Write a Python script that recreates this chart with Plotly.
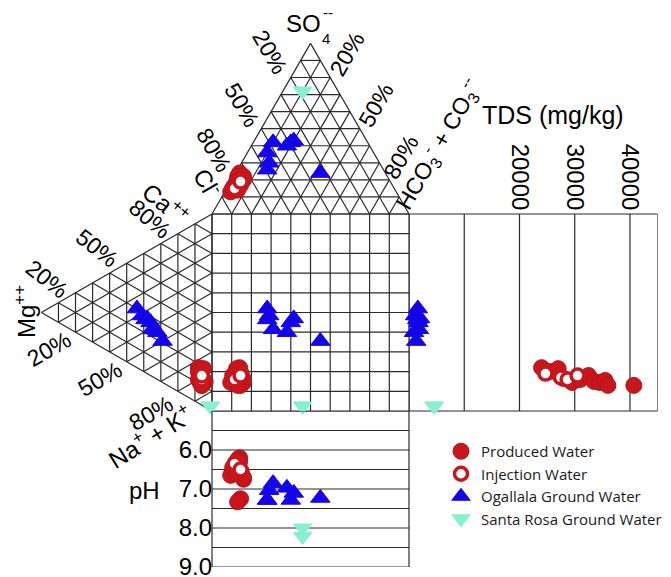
import numpy as np
import plotly.graph_objects as go

# ---------------- sample chemistry ----------------
# cations / anions in % of meq, TDS in mg/kg
prod_ca = [18, 16, 19, 13, 12, 12, 15, 13, 11, 13, 10, 10]
prod_mg = [8, 8, 5, 7, 5, 8, 6, 4, 7, 5, 6, 6]
prod_nak = [74, 76, 76, 80, 83, 80, 79, 83, 82, 82, 84, 84]
prod_cl = [74, 76, 78, 81, 84, 74, 82, 77, 73, 80, 77, 80]
prod_so4 = [24, 22, 19, 16, 13, 20, 15, 18, 22, 15, 17, 14]
prod_hco3 = [2, 2, 3, 3, 3, 6, 3, 5, 5, 5, 6, 6]
prod_tds = [24000, 25500, 27000, 28000, 29500, 31000, 32500, 33500, 34500, 35500, 36000, 40700]
prod_ph = [6.2, 6.25, 6.4, 6.55, 6.65, 6.75, 6.45, 6.3, 6.7, 6.6, 7.25, 7.33]

inj_ca = [16, 14, 13, 15]
inj_mg = [6, 6, 6, 6]
inj_nak = [78, 80, 81, 79]
inj_cl = [75, 80, 81, 76]
inj_so4 = [20, 16, 15, 19]
inj_hco3 = [5, 4, 4, 5]
inj_tds = [24700, 27500, 28700, 30500]
inj_ph = [6.55, 6.33, 6.35, 6.5]

oga_ca = [30, 28, 24, 24, 28, 21, 27, 27]
oga_mg = [44, 41, 35, 32, 38, 29, 39, 36]
oga_nak = [26, 31, 41, 44, 34, 50, 34, 37]
oga_cl = [54, 56, 48, 42, 37, 33, 59, 39]
oga_so4 = [36, 30, 42, 40, 43, 24, 26, 42]
oga_hco3 = [10, 14, 10, 18, 20, 43, 15, 19]
oga_tds = [1600, 1100, 1800, 900, 2000, 1300, 1500, 1700]
oga_ph = [7.28, 7.03, 6.85, 6.97, 7.1, 7.23, 7.28, 7.28]

sr_ca = [2, 2]
sr_mg = [1, 1]
sr_nak = [97, 97]
sr_cl = [18, 18]
sr_so4 = [72, 72]
sr_hco3 = [10, 10]
sr_tds = [4500, 4600]
sr_ph = [8.0, 8.22]

tds_ticks = [20000, 30000, 40000]
tds_ticktext = ["20000", "30000", "40000"]
ph_ticks = [6, 7, 8, 9]
ph_ticktext = ["6.0", "7.0", "8.0", "9.0"]
pct_labels = ["20%", "50%", "80%"]

# ---------------- geometry ----------------
W, H = 671, 577
S = 197.0               # pixels per side of the central square
OX, OY = 212.0, 411.0   # pixel position of the square's lower-left corner
R3 = np.sqrt(3) / 2
TDS_MAX = 45000
TDS_W = 248.6           # pixel width of the TDS panel
PH_H = 156.0            # pixel height of the pH panel (pH 5 -> 9)

FONT = "Liberation Sans, Arial, sans-serif"
GRID = "#2a2a2a"
RED = "#c9161d"
BLUE = "#1405e8"
MINT = "#86f0d0"


def anion_xy(cl, so4, hco3):
    cl, so4, hco3 = (np.asarray(v, float) for v in (cl, so4, hco3))
    tot = cl + so4 + hco3
    s, h = so4 / tot, hco3 / tot
    return h + s / 2, 1 + s * R3


def cation_xy(ca, mg, nak):
    ca, mg, nak = (np.asarray(v, float) for v in (ca, mg, nak))
    tot = ca + mg + nak
    c, m = ca / tot, mg / tot
    return -m * R3, c + m / 2


def seg_trace(segs, xaxis="x", yaxis="y"):
    xs, ys = [], []
    for (x0, y0), (x1, y1) in segs:
        xs += [x0, x1, None]
        ys += [y0, y1, None]
    return go.Scatter(x=xs, y=ys, mode="lines", xaxis=xaxis, yaxis=yaxis,
                      line=dict(color=GRID, width=1.2), hoverinfo="skip",
                      showlegend=False, cliponaxis=False)


fig = go.Figure()

# ---- grids of the two triangles and the central square ----
segs = []
for k in range(10):
    f, g = k / 10, (k + 1) / 10
    # anion triangle (SO4 apex on top of the square)
    segs.append(((f / 2, 1 + f * R3), (1 - f / 2, 1 + f * R3)))
    segs.append(((f, 1), (f + (1 - f) / 2, 1 + (1 - f) * R3)))
    segs.append(((g, 1), (g / 2, 1 + g * R3)))
    # cation triangle (Mg apex to the left of the square)
    segs.append(((-f * R3, f / 2), (-f * R3, 1 - f / 2)))
    segs.append(((0, f), (-(1 - f) * R3, f + (1 - f) / 2)))
    segs.append(((0, g), (-g * R3, g / 2)))
for k in range(11):
    f = k / 10
    segs.append(((f, 0), (f, 1)))
    segs.append(((0, f), (1, f)))
fig.add_trace(seg_trace(segs))

# ---- TDS panel ----
tds_segs = [((v, 0), (v, 1)) for v in [0, 10000, 20000, 30000, 40000, TDS_MAX]]
tds_segs += [((0, 0), (TDS_MAX, 0)), ((0, 1), (TDS_MAX, 1))]
fig.add_trace(seg_trace(tds_segs, xaxis="x2", yaxis="y"))

# ---- pH panel ----
ph_segs = [((0, p), (1, p)) for p in np.arange(5.0, 9.01, 0.5)]
ph_segs += [((0, 5), (0, 9)), ((1, 5), (1, 9))]
fig.add_trace(seg_trace(ph_segs, xaxis="x", yaxis="y2"))

# ---- samples ----
groups = [
    dict(name="Ogallala Ground Water", rank=3,
         data=(oga_ca, oga_mg, oga_nak, oga_cl, oga_so4, oga_hco3, oga_tds, oga_ph),
         marker=dict(symbol="triangle-up", size=17, color=BLUE,
                     line=dict(color=BLUE, width=1))),
    dict(name="Santa Rosa Ground Water", rank=4,
         data=(sr_ca, sr_mg, sr_nak, sr_cl, sr_so4, sr_hco3, sr_tds, sr_ph),
         marker=dict(symbol="triangle-down", size=16, color=MINT,
                     line=dict(color=MINT, width=1))),
    dict(name="Produced Water", rank=1,
         data=(prod_ca, prod_mg, prod_nak, prod_cl, prod_so4, prod_hco3, prod_tds, prod_ph),
         marker=dict(symbol="circle", size=16, color=RED,
                     line=dict(color="#b51219", width=1))),
    dict(name="Injection Water", rank=2,
         data=(inj_ca, inj_mg, inj_nak, inj_cl, inj_so4, inj_hco3, inj_tds, inj_ph),
         marker=dict(symbol="circle", size=13, color="white",
                     line=dict(color=RED, width=3.5))),
]

for grp in groups:
    ca, mg, nak, cl, so4, hco3, tds, ph = grp["data"]
    ax, ay = anion_xy(cl, so4, hco3)
    cx, cy = cation_xy(ca, mg, nak)
    common = dict(mode="markers", marker=grp["marker"], legendgroup=grp["name"],
                  name=grp["name"], cliponaxis=False, hoverinfo="skip")
    # anion triangle + cation triangle + square projection
    fig.add_trace(go.Scatter(x=np.concatenate([ax, cx, ax]),
                             y=np.concatenate([ay, cy, cy]),
                             showlegend=True, legendrank=grp["rank"], **common))
    # TDS panel
    fig.add_trace(go.Scatter(x=tds, y=cy, xaxis="x2", yaxis="y",
                             showlegend=False, **common))
    # pH panel
    fig.add_trace(go.Scatter(x=ax, y=ph, xaxis="x", yaxis="y2",
                             showlegend=False, **common))


# ---------------- labels ----------------
def label(text, px, py, angle=0, size=23):
    return dict(text=text, x=px / W, y=1 - py / H, xref="paper", yref="paper",
                showarrow=False, textangle=angle, xanchor="center",
                yanchor="middle", font=dict(family=FONT, size=size, color="black"))


ann = [
    label("SO", 303.5, 24, size=24),
    label("4", 326, 38, size=15),
    label("--", 327.5, 12, size=15),
    # anion triangle, Cl side
    label(pct_labels[0], 270, 52, 60),
    label(pct_labels[1], 242, 105, 60),
    label(pct_labels[2], 214, 150, 60),
    label("Cl<sup>-</sup>", 208, 182, 60, 24),
    # anion triangle, HCO3 side
    label(pct_labels[0], 347, 54, -60),
    label(pct_labels[1], 376, 105, -60),
    label(pct_labels[2], 401, 157, -60),
    label("HCO<sub>3</sub><sup>-</sup> + CO<sub>3</sub><sup>--</sup>", 438, 144, -60, 23),
    # cation triangle, Ca side
    label(pct_labels[0], 47, 279, 38),
    label(pct_labels[1], 97, 248, 38),
    label(pct_labels[2], 150, 219, 40),
    label("Ca<sup>++</sup>", 166, 203, 40, 24),
    # cation triangle, Na+K side
    label(pct_labels[0], 49, 349, -30),
    label(pct_labels[1], 100, 379, -30),
    label(pct_labels[2], 151, 413, -30),
    label("Na<sup>+</sup> + K<sup>+</sup>", 150, 436, -32, 24),
    label("Mg<sup>++</sup>", 25, 312, -90, 24),
    label("pH", 144, 490, 0, 24),
    label("TDS (mg/kg)", 553, 115, 0, 25),
]

tick_font = dict(family=FONT, size=24, color="black")
fig.update_layout(
    template="none",
    width=W, height=H,
    margin=dict(l=0, r=0, t=0, b=0),
    paper_bgcolor="white", plot_bgcolor="rgba(0,0,0,0)",
    xaxis=dict(range=[-OX / S, (W - OX) / S], domain=[0, 1], visible=False,
               showgrid=False, zeroline=False),
    yaxis=dict(range=[(OY - H) / S, OY / S], domain=[0, 1], visible=False,
               showgrid=False, zeroline=False),
    xaxis2=dict(domain=[(OX + S) / W, (OX + S + TDS_W) / W], range=[0, TDS_MAX],
                anchor="free", position=1 - (OY - S) / H, side="top",
                tickvals=tds_ticks, ticktext=tds_ticktext, tickangle=90,
                tickfont=tick_font, ticklabeloverflow="allow",
                showgrid=False, zeroline=False, showline=False, ticks=""),
    yaxis2=dict(domain=[(H - OY - PH_H) / H, (H - OY) / H], range=[9, 5],
                anchor="free", position=OX / W, side="left",
                tickvals=ph_ticks, ticktext=ph_ticktext, tickfont=tick_font,
                ticklabeloverflow="allow",
                showgrid=False, zeroline=False, showline=False, ticks=""),
    legend=dict(x=441 / W, y=1 - 435 / H, xanchor="left", yanchor="top",
                font=dict(family="Open Sans", size=15, color="#1a1a1a"),
                bgcolor="rgba(0,0,0,0)", itemsizing="trace", tracegroupgap=0),
    annotations=ann,
    showlegend=True,
)

fig.write_html("out.html")
